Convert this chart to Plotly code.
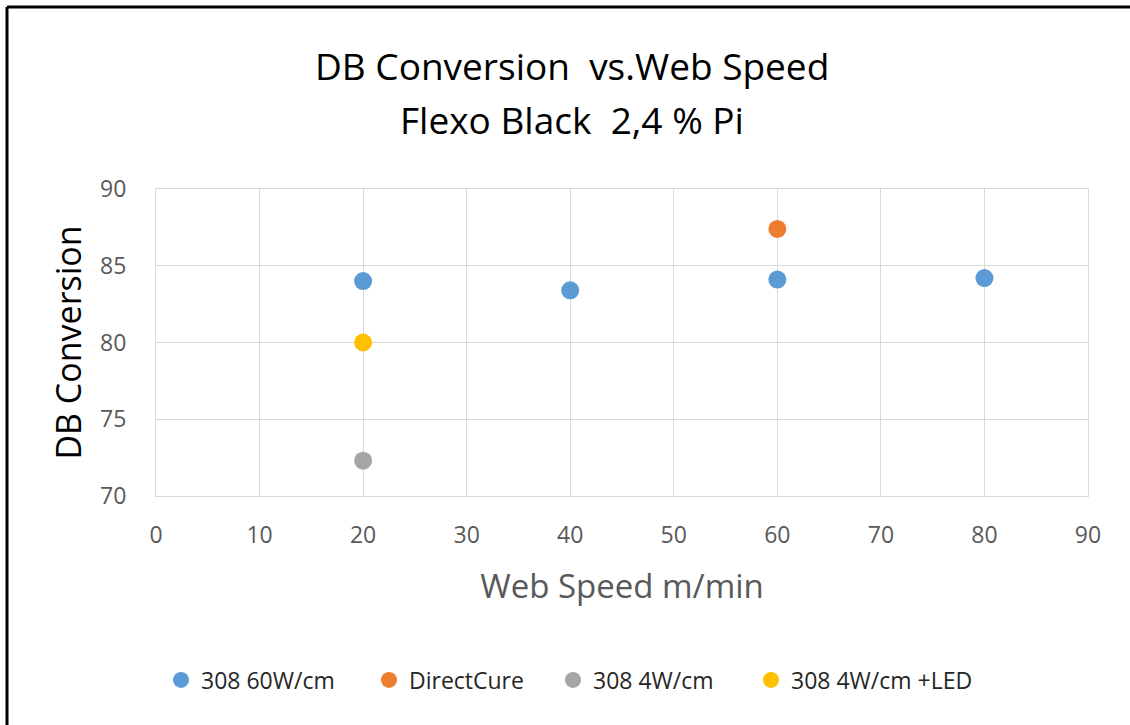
import plotly.graph_objects as go

series_names = ["308 60W/cm", "DirectCure", "308 4W/cm", "308 4W/cm +LED"]
series_colors = ["#5b9bd5", "#ed7d31", "#a5a5a5", "#ffc000"]
x_60w = [20, 40, 60, 80]
y_60w = [84.0, 83.4, 84.1, 84.2]
x_direct = [60]
y_direct = [87.4]
x_4w = [20]
y_4w = [72.3]
x_led = [20]
y_led = [80.0]

xs = [x_60w, x_direct, x_4w, x_led]
ys = [y_60w, y_direct, y_4w, y_led]

x_ticks = [0, 10, 20, 30, 40, 50, 60, 70, 80, 90]
y_ticks = [70, 75, 80, 85, 90]

title_line1 = "DB Conversion  vs.Web Speed"
title_line2 = "Flexo Black  2,4 % Pi"

FONT = "Open Sans"
W, H = 1130, 725
L, R, T, B = 156, 42, 189, 229

pw = W - L - R
ph = H - T - B
def px_x(p):
    return (p - L) / pw
def px_y(p):
    return (H - B - p) / ph

legend_ids = ["legend", "legend2", "legend3", "legend4"]
legend_px = [161, 369, 553, 751]

fig = go.Figure()
for name, col, x, y, lid in zip(series_names, series_colors, xs, ys, legend_ids):
    fig.add_trace(go.Scatter(x=x, y=y, mode="markers", name=name, legend=lid,
                             marker=dict(color=col, size=18, line=dict(width=0))))

legend_layout = {}
for lid, lx in zip(legend_ids, legend_px):
    legend_layout[lid] = dict(orientation="h", x=px_x(lx), xanchor="left", y=px_y(680), yanchor="middle",
                              font=dict(family=FONT, size=23, color="#262626"), itemwidth=30,
                              bgcolor="rgba(0,0,0,0)")

fig.update_layout(
    width=W, height=H,
    margin=dict(l=L, r=R, t=T, b=B, pad=0, autoexpand=False),
    paper_bgcolor="white", plot_bgcolor="white",
    showlegend=True,
    xaxis=dict(range=[0, 90], tickvals=x_ticks, showgrid=True, gridcolor="#d9d9d9", gridwidth=1,
               showline=True, linecolor="#d9d9d9", linewidth=1, mirror=True, zeroline=False,
               ticks="", tickfont=dict(family=FONT, size=23, color="#595959"), ticklabelstandoff=18,
               title=dict(text="Web Speed m/min", font=dict(family=FONT, size=33, color="#595959"),
                          standoff=26)),
    yaxis=dict(range=[70, 90], tickvals=y_ticks, showgrid=True, gridcolor="#d9d9d9", gridwidth=1,
               showline=True, linecolor="#d9d9d9", linewidth=1, mirror=True, zeroline=False,
               ticks="", tickfont=dict(family=FONT, size=23, color="#595959"), ticklabelstandoff=24,
               title=dict(text="DB Conversion", font=dict(family=FONT, size=34, color="#000000"),
                          standoff=8)),
    annotations=[
        dict(text=title_line1, xref="paper", yref="paper",
             x=px_x(572), y=px_y(65), xanchor="center", yanchor="middle", showarrow=False,
             font=dict(family=FONT, size=37, color="#000000")),
        dict(text=title_line2, xref="paper", yref="paper",
             x=px_x(572), y=px_y(120), xanchor="center", yanchor="middle", showarrow=False,
             font=dict(family=FONT, size=37, color="#000000")),
    ],
    shapes=[
        dict(type="line", xref="paper", yref="paper", x0=px_x(7), x1=px_x(1135), y0=px_y(7), y1=px_y(7),
             line=dict(color="black", width=3)),
        dict(type="line", xref="paper", yref="paper", x0=px_x(7), x1=px_x(7), y0=px_y(7), y1=px_y(730),
             line=dict(color="black", width=3)),
    ],
    **legend_layout,
)

fig.write_html("out.html")
